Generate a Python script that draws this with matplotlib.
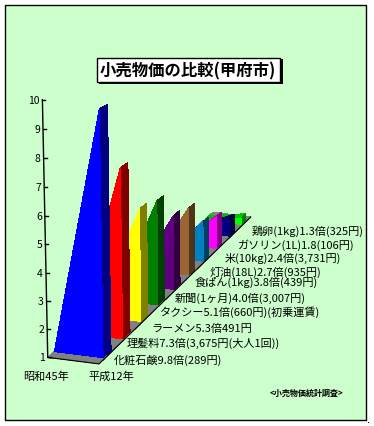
import numpy as np
import matplotlib
matplotlib.use('Agg')
import matplotlib.pyplot as plt
from matplotlib.patches import Rectangle

plt.rcParams['font.family'] = ['Noto Sans CJK JP', 'DejaVu Sans']

#chart data, nearest series first
labels = ['化粧石鹸9.8倍(289円)', '理髪料7.3倍(3,675円(大人1回))', 'ラーメン5.3倍491円',
          'タクシー5.1倍(660円)(初乗運賃)', '新聞(1ヶ月)4.0倍(3,007円)', '食ぱん(1kg)3.8倍(439円)',
          '灯油(18L)2.7倍(935円)', '米(10kg)2.4倍(3,731円)', 'ガソリン(1L)1.8(106円)', '鶏卵(1kg)1.3倍(325円)']
start_values = [1, 1, 1, 1, 1, 1, 1, 1, 1, 1]
end_values = [9.8, 7.3, 5.3, 5.1, 4.0, 3.8, 2.7, 2.4, 1.8, 1.3]
years = ['昭和45年', '平成12年']
y_ticks = [1, 2, 3, 4, 5, 6, 7, 8, 9, 10]
front_colors = ['#0000ff', '#ff0000', '#ffff00', '#008000', '#600080',
                '#996633', '#0080c0', '#ff00ff', '#000080', '#00ff00']
side_colors = ['#000080', '#800000', '#808000', '#004000', '#300040',
               '#4c3319', '#004060', '#800080', '#000040', '#008000']
top_colors = ['#0000c0', '#c00000', '#c0c000', '#006000', '#480060',
              '#734d26', '#002060', '#c000c0', '#000060', '#00c000']

#layout of the text, in pixels
label_x = [114, 127, 151, 160, 175, 195, 210, 225, 238, 252]
label_y = [360, 343, 329, 312, 298, 282, 272, 258, 245, 231]

#camera fit: (time, depth, height) -> screen pixel
calib = [
    (0, 0, 0, 49, 358), (1, 0, 0, 97, 366), (1, 1, 0, 250, 218), (0, 1, 0, 212, 214),
    (0, 0, 1, 48, 331), (0, 0, 4, 45, 246), (0, 0, 6, 44, 188), (0, 0, 9, 42, 99),
    (0.96, 0.03, 0, 103, 358), (0.96, 0.03, 8.8, 99, 113),
    (0.96, 0.13, 6.3, 121, 168), (0.96, 0.23, 4.3, 140, 209),
    (0.96, 0.53, 2.8, 189, 207), (0.96, 0.53, 0, 189, 276),
    (0.96, 0.93, 0.3, 242, 219), (0.96, 0.93, 0, 242, 226),
]
A = []
b = []
for t, d, z, sx, sy in calib:
    A.append([t, d, z, 1, 0, 0, 0, 0, -sx*t, -sx*d, -sx*z])
    b.append(sx)
    A.append([0, 0, 0, 0, t, d, z, 1, -sy*t, -sy*d, -sy*z])
    b.append(sy)
cam = np.linalg.lstsq(np.array(A, float), np.array(b, float), rcond=None)[0]


def project(t, d, z):
    w = cam[8]*t + cam[9]*d + cam[10]*z + 1
    return ((cam[0]*t + cam[1]*d + cam[2]*z + cam[3])/w,
            (cam[4]*t + cam[5]*d + cam[6]*z + cam[7])/w)


def face(ax, pts, color):
    xy = [project(*p) for p in pts]
    ax.fill([p[0] for p in xy], [p[1] for p in xy], color=color, lw=0, antialiased=False)


fig = plt.figure(figsize=(3.74, 4.27), dpi=100)
ax = fig.add_axes([0, 0, 1, 1])
ax.set_xlim(0, 374)
ax.set_ylim(427, 0)
ax.axis('off')

ax.add_patch(Rectangle((5.5, 5.5), 361, 415, fc='#ccffcc', ec='black', lw=1))

#floor
corners = [(0, 0, 0), (1, 0, 0), (1, 1, 0), (0, 1, 0)]
face(ax, corners, '#808080')
fx = [project(*p)[0] for p in corners[:3]]
fy = [project(*p)[1] for p in corners[:3]]
ax.plot(fx, fy, color='black', lw=0.8)

#wedges, far ones first
n = len(end_values)
for i in range(n - 1, -1, -1):
    d0 = (i + 0.3)/n
    d1 = (i + 0.7)/n
    z0 = start_values[i] - 1
    z1 = end_values[i] - 1
    t1 = 0.96
    face(ax, [(0, d0, z0), (t1, d0, z1), (t1, d1, z1), (0, d1, z0)], top_colors[i])
    face(ax, [(t1, d0, 0), (t1, d0, z1), (t1, d1, z1), (t1, d1, 0)], side_colors[i])
    face(ax, [(0, d0, 0), (t1, d0, z1), (t1, d0, 0)], front_colors[i])

#value axis
ax.plot(*zip(project(0, 0, 0), project(0, 0, 9)), color='black', lw=1)
ax.plot(*zip(project(0, 0, 0), project(0.06, 0, 0)), color='black', lw=1)
for v in y_ticks:
    px, py = project(0, 0, v - 1)
    ax.plot([px, px + 3], [py, py], color='black', lw=1)
    ax.text(px - 3, py, str(v), ha='right', va='center', fontsize=7.5, color='black')

ax.text(46, 377, years[0], ha='center', va='center', fontsize=8, color='black')
ax.text(111, 377, years[1], ha='center', va='center', fontsize=8, color='black')

for i in range(n):
    ax.text(label_x[i], label_y[i], labels[i], ha='left', va='center', fontsize=8, color='black')

ax.text(307, 393, '<小売物価統計調査>', ha='center', va='center', fontsize=5.8,
        fontweight='bold', color='black')

#title box
ax.add_patch(Rectangle((99, 60), 184, 25, fc='black', ec='black', lw=0))
ax.add_patch(Rectangle((97.5, 58.5), 183, 24, fc='white', ec='black', lw=1))
ax.text(188, 71, '小売物価の比較(甲府市)', ha='center', va='center', fontsize=11.8,
        fontweight='bold', color='black')

#stray pixel just outside the frame
ax.add_patch(Rectangle((368, 423), 1, 1, fc='black', lw=0))

fig.savefig('out.png', dpi=100)
